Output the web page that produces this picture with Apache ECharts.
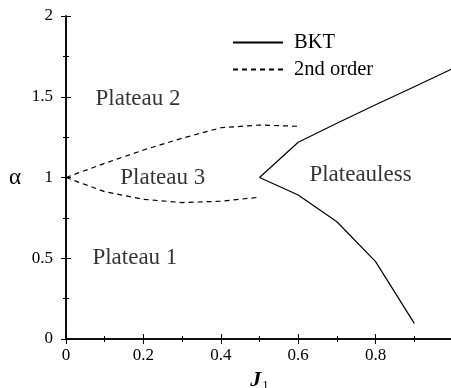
<!DOCTYPE html>
<html><head><meta charset="utf-8">
<script src="https://cdn.jsdelivr.net/npm/echarts@6/dist/echarts.min.js"></script>
<style>html,body{margin:0;padding:0;background:#fff}#c{width:451px;height:388px}</style>
</head><body><div id="c"></div>
<script>
// Data
const bktUpper = [[0.5,1.0],[0.6,1.218],[0.7,1.336],[0.8,1.45],[0.9,1.562],[1.0,1.675]];
const bktLower = [[0.5,1.0],[0.6,0.892],[0.7,0.726],[0.8,0.479],[0.9,0.097]];
const dashUpper = [[0,1.0],[0.1,1.088],[0.2,1.17],[0.3,1.243],[0.4,1.308],[0.5,1.325],[0.6,1.317]];
const dashLower = [[0,1.0],[0.1,0.912],[0.2,0.865],[0.3,0.845],[0.4,0.853],[0.5,0.878]];
const regionLabels = [
  {name:'Plateau 2', value:[0.186,1.485]},
  {name:'Plateau 3', value:[0.25,1.0]},
  {name:'Plateauless', value:[0.761,1.018]},
  {name:'Plateau 1', value:[0.178,0.5]}
];
const xTicks = [0,0.2,0.4,0.6,0.8];

const FONT = "'Liberation Serif','Times New Roman',serif";
const chart = echarts.init(document.getElementById('c'), null, {renderer:'canvas'});
const axisLine = {show:true, lineStyle:{color:'#000', width:1.5}};
const tick = {show:true, inside:true, length:5, lineStyle:{color:'#000', width:1}};
const minor = {show:true, splitNumber:2, length:3, lineStyle:{color:'#000', width:1}};
chart.setOption({
  animation:false,
  backgroundColor:'#fff',
  grid:{left:66, top:16, width:387, height:323, containLabel:false, outerBoundsMode:'none'},
  legend:{
    orient:'vertical', left:227, top:27, itemWidth:50, itemHeight:14, itemGap:6,
    itemStyle:{opacity:0},
    textStyle:{fontFamily:FONT, fontSize:20.5, color:'#000', padding:[0,0,0,6]},
    data:['BKT','2nd order'],
    selectedMode:false
  },
  xAxis:[{
    type:'value', min:0, max:1, interval:0.2, position:'bottom',
    axisLine, axisTick:tick, minorTick:minor, splitLine:{show:false},
    axisLabel:{fontFamily:FONT, fontSize:17, color:'#000', margin:8,
      formatter:v=> xTicks.some(t=>Math.abs(t-v)<1e-9) ? String(+v.toFixed(1)) : ''},
    name:'{j|J}{s|1}', nameLocation:'middle', nameGap:27,
    nameTextStyle:{rich:{j:{fontFamily:FONT, fontSize:22, fontStyle:'italic', fontWeight:'bold', color:'#000'},
      s:{fontFamily:FONT, fontSize:13, color:'#000', padding:[12,0,0,1]}}}
  },{
    type:'value', min:0, max:1, interval:0.2, position:'top',
    axisLine, axisTick:tick, minorTick:minor, axisLabel:{show:false}, splitLine:{show:false}
  }],
  yAxis:[{
    type:'value', min:0, max:2, interval:0.5, position:'left',
    axisLine, axisTick:tick, minorTick:minor, splitLine:{show:false},
    axisLabel:{fontFamily:FONT, fontSize:17, color:'#000', margin:13},
    name:'α', nameLocation:'middle', nameGap:45, nameRotate:0,
    nameTextStyle:{fontFamily:FONT, fontSize:23, color:'#000'}
  },{
    type:'value', min:0, max:2, interval:0.5, position:'right',
    axisLine, axisTick:tick, minorTick:minor, axisLabel:{show:false}, splitLine:{show:false}
  }],
  series:[
    {name:'BKT', type:'line', data:bktUpper, symbol:'none', lineStyle:{color:'#000', width:1.2}, itemStyle:{color:'#000'}},
    {name:'BKT', type:'line', data:bktLower, symbol:'none', lineStyle:{color:'#000', width:1.2}, itemStyle:{color:'#000'}},
    {name:'2nd order', type:'line', data:dashUpper, symbol:'none', lineStyle:{color:'#000', width:1.2, type:[5,4]}, itemStyle:{color:'#000'}},
    {name:'2nd order', type:'line', data:dashLower, symbol:'none', lineStyle:{color:'#000', width:1.2, type:[5,4]}, itemStyle:{color:'#000'}},
    {name:'labels', type:'scatter', data:regionLabels, symbolSize:0, silent:true,
      label:{show:true, position:'inside', formatter:'{b}', fontFamily:FONT, fontSize:23, color:'#000'}}
  ]
});
</script></body></html>
